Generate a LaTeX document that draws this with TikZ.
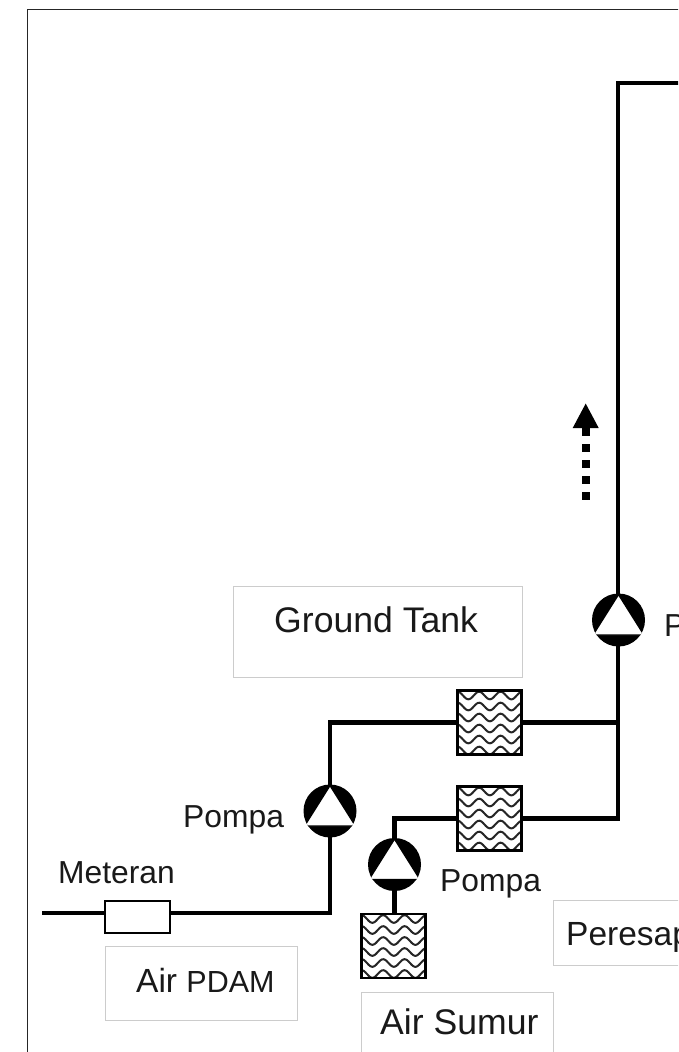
\documentclass[tikz,border=0pt]{standalone}
\usepackage{fontspec}
\setmainfont{Liberation Sans}
\usetikzlibrary{arrows.meta}
\tikzset{
  x=1pt,y=-1pt,
  pipe/.style={line width=4.6pt,line join=miter,draw=black},
  lbl/.style={inner sep=0pt,text=black!90,anchor=base west},
  big/.style={font=\fontsize{35.6}{40}\selectfont},
  mid/.style={font=\fontsize{31.8}{36}\selectfont},
  tbox/.style={draw=black!20,line width=1pt,fill=white},
  wavefilter/.style={draw=black,line width=2.4pt,fill=white,minimum width=64pt,minimum height=64pt,inner sep=0pt,
    path picture={
      \begin{scope}[shift={(path picture bounding box.center)}]
        \foreach \r in {-27,-16,-5,6,17,28}{
          \draw[line width=2pt,black!85] plot[domain=-36:36,samples=70,smooth] (\x,{\r+3.8*sin((\x+5)*360/21.5)});
        }
      \end{scope}
    }},
  pump/.style={circle,fill=black,draw=none,minimum size=53pt,inner sep=0pt,
    path picture={
      \begin{scope}[shift={(path picture bounding box.center)}]
        \fill[white,draw=black,line width=1.4pt,line join=miter] (0,-25.5) -- (25.5,15) -- (-25.5,15) -- cycle;
      \end{scope}
    }},
}
\begin{document}
\begin{tikzpicture}
\useasboundingbox (0,0) rectangle (678,1052);
\clip (0,0) rectangle (678,1052);
\fill[white] (0,0) rectangle (678,1052);

% frame
\draw[black!85,line width=1.5pt] (27.5,1060) -- (27.5,9.5) -- (690,9.5);

% text boxes
\node[tbox,minimum width=289pt,minimum height=91pt,inner sep=0pt] (gtbox) at (377.5,631.5) {};
\node[tbox,minimum width=192pt,minimum height=74pt,inner sep=0pt] (pdambox) at (201,983) {};
\node[tbox,minimum width=192pt,minimum height=90pt,inner sep=0pt] (sumurbox) at (457,1037) {};
\node[tbox,minimum width=200pt,minimum height=65pt,inner sep=0pt] (resapbox) at (653,932.5) {};

% connector anchors
\coordinate (topend) at (690,83);
\coordinate (topcorner) at (618,83);
\coordinate (junction1) at (618,722.5);
\coordinate (junction2) at (618,818.5);
\coordinate (corner1) at (330,722.5);
\coordinate (corner2) at (330,913);
\coordinate (corner3) at (394.5,818.5);
\coordinate (inlet) at (42,913);

% devices
\node[wavefilter] (f1) at (489.5,722.5) {};
\node[wavefilter] (f2) at (489.5,818.5) {};
\node[wavefilter] (f3) at (393.5,946) {};
\node[draw=black,line width=2pt,fill=white,minimum width=65pt,minimum height=32pt,inner sep=0pt] (meter) at (137,917) {};

% pipes
\draw[pipe] (topend) -- (topcorner) -- (junction2) -- (f2.east);
\draw[pipe] (junction1) -- (f1.east);
\draw[pipe] (f1.west) -- (corner1) -- (corner2) -- (meter.east |- corner2);
\draw[pipe] (meter.west |- inlet) -- (inlet);
\draw[pipe] (f2.west) -- (corner3) -- (corner3 |- f3.north);

% pumps
\node[pump] (p1) at (618.5,620) {};
\node[pump] (p2) at (330,811) {};
\node[pump] (p3) at (394.5,864.5) {};

% flow arrow
\coordinate (flowstart) at (585.7,499.5);
\coordinate (flowend) at (585.7,403);
\draw[line width=8pt,dash pattern=on 8pt off 8pt,-{Triangle[length=25pt,width=24pt]}] (flowstart) -- (flowend);

% labels
\node[lbl,big] (tgt) at (274,632) {Ground Tank};
\node[lbl,mid] (tp1) at (664,636) {P};
\node[lbl,mid] (tp2) at (183,827) {Pompa};
\node[lbl,mid] (tp3) at (440,891) {Pompa};
\node[lbl,mid] (tm) at (58,883) {Meteran};
\node[lbl,font=\fontsize{33.5}{38}\selectfont] (tpdam) at (136,992) {Air {\fontsize{30.5}{34}\selectfont PDAM}};
\node[lbl,big] (tsumur) at (380,1034) {Air Sumur};
\node[lbl,font=\fontsize{33.5}{38}\selectfont] (tresap) at (566,945) {Peresap};
\end{tikzpicture}
\end{document}
